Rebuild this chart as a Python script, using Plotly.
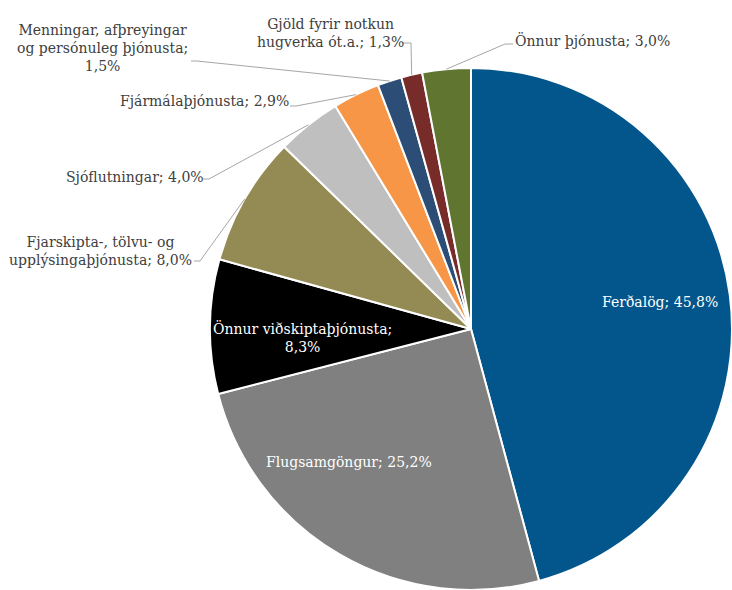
import math
import plotly.graph_objects as go

# ---- data ----
categories = [
    "Ferðalög",
    "Flugsamgöngur",
    "Önnur viðskiptaþjónusta",
    "Fjarskipta-, tölvu- og upplýsingaþjónusta",
    "Sjóflutningar",
    "Fjármálaþjónusta",
    "Menningar, afþreyingar og persónuleg þjónusta",
    "Gjöld fyrir notkun hugverka ót.a.",
    "Önnur þjónusta",
]
shares = [45.8, 25.2, 8.3, 8.0, 4.0, 2.9, 1.5, 1.3, 3.0]

# ---- style ----
colors = ["#03568B", "#808080", "#000000", "#948A54", "#BFBFBF",
          "#F79646", "#2C4D75", "#772C2A", "#5F7530"]
W, H = 732, 590
CX, CY, R = 471, 329, 261  # pie placement in px
FONT = "Palatino Linotype, Book Antiqua, Palatino, DejaVu Serif, serif"
FS = 14

# label text layout (line breaks)
display_names = [
    "Ferðalög; ",
    "Flugsamgöngur; ",
    "Önnur viðskiptaþjónusta;<br>",
    "Fjarskipta-, tölvu- og<br>upplýsingaþjónusta; ",
    "Sjóflutningar; ",
    "Fjármálaþjónusta; ",
    "Menningar, afþreyingar<br>og persónuleg þjónusta;<br>",
    "Gjöld fyrir notkun<br>hugverka ót.a.; ",
    "Önnur þjónusta; ",
]
# label centres (px) and whether inside
label_pos = [(660, 302), (349, 462), (302, 337), (101, 251), (135, 177),
             (205, 101), (103, 48), (330, 33), (592, 40)]
inside = [True, True, True, False, False, False, False, False, False]
# leader line anchor points near the label (px)
leader_pts = [None, None, None,
              [(194, 261), (200, 261)],
              [(203, 179), (209, 179)],
              [(290, 106), (296, 106)],
              [(191, 61), (197, 61)],
              [(402, 43), (411, 43)],
              [(513, 44), (505, 44)]]


def px2paper(x, y):
    return x / W, 1 - y / H


fig = go.Figure()
fig.add_trace(go.Pie(
    labels=categories, values=shares, sort=False, direction="clockwise",
    rotation=0, textinfo="none", hoverinfo="label+percent",
    marker=dict(colors=colors, line=dict(color="white", width=2)),
    domain=dict(x=[(CX - R) / W, (CX + R) / W], y=[1 - (CY + R) / H, 1 - (CY - R) / H]),
    showlegend=False,
))

total = sum(shares)
cum = 0.0
annotations = []
shapes = []
for i, v in enumerate(shares):
    mid = (cum + v / 2) / total * 2 * math.pi
    cum += v
    txt = display_names[i] + f"{v:.1f}".replace(".", ",") + "%"
    lx, ly = px2paper(*label_pos[i])
    annotations.append(dict(
        x=lx, y=ly, xref="paper", yref="paper", text=txt, showarrow=False,
        xanchor="center", yanchor="middle", align="center",
        font=dict(family=FONT, size=FS, color="white" if inside[i] else "#404040"),
    ))
    if leader_pts[i]:
        ex = CX + R * math.sin(mid)
        ey = CY - R * math.cos(mid)
        pts = leader_pts[i] + [(ex, ey)]
        path = "M " + " L ".join(f"{px2paper(x, y)[0]},{px2paper(x, y)[1]}" for x, y in pts)
        shapes.append(dict(type="path", path=path, xref="paper", yref="paper",
                           line=dict(color="#A6A6A6", width=1)))

fig.update_layout(
    width=W, height=H, margin=dict(l=0, r=0, t=0, b=0),
    paper_bgcolor="white", plot_bgcolor="white",
    annotations=annotations, shapes=shapes,
)
fig.write_html("out.html", config={"displayModeBar": False},
               post_script="document.body.style.margin='0';document.body.style.overflow='hidden';")
